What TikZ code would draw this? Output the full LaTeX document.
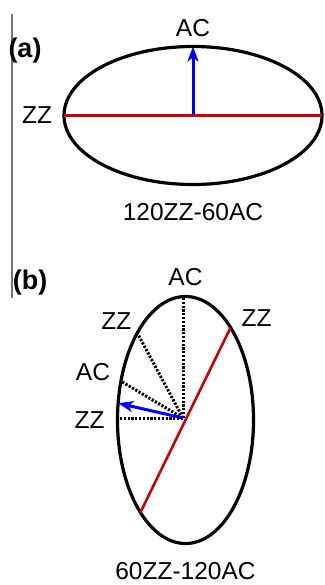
\documentclass[tikz,border=0pt]{standalone}
\usepackage{fontspec}
\setmainfont{Liberation Sans}
\usetikzlibrary{arrows.meta,positioning,shapes.geometric}

\definecolor{zzred}{RGB}{200,0,10}

\begin{document}
\begin{tikzpicture}[
				x=1bp, y=-1bp,
				every node/.style={font=\fontsize{24.5bp}{29bp}\selectfont, inner sep=0pt, outer sep=0pt},
				oval/.style={
					draw=black,
					ellipse,
					line width=3.2bp
				},
				axis/.style={
					draw=zzred,
					line width=2.6bp
				},
				vec/.style={
					-{Stealth[length=15bp,width=11bp,inset=4bp]},
					draw=blue,
					line width=3bp
				},
				dotline/.style={
					line width=3bp,
					dash pattern=on 2.2bp off 1.6bp
				},
				tag/.style={font=\bfseries\fontsize{27bp}{32bp}\selectfont}
				]
				\useasboundingbox (0,0) rectangle (324,585);
				\draw[black!55, line width=1.2bp] (12,14) -- (12,298);
				
				% (a)
				\node[tag] (tagA) at (25,51) {(a)};
				\node[oval, minimum width=258bp, minimum height=138bp] (ellA) at (193,115.5) {};
				\node[above=10bp of ellA.north] (acA) {AC};
				\node[left=12bp of ellA.west] (zzA) {ZZ};
				\node[below=19bp of ellA.south] (capA) {120ZZ-60AC};
				
				\draw[axis] (ellA.west) -- (ellA.east);
				\draw[vec] (ellA.center) -- (ellA.north);
				
				% (b)
				\node[tag] (tagB) at (30,283) {(b)};
				\node[oval, minimum width=136bp, minimum height=247bp] (ellB) at (185.5,420) {};
				\coordinate (ctrB) at (183,418);
				\node[above=11bp of ellB.north] (acB) {AC};
				\node[above left=3bp and 6bp of ellB.119] (zzB) {ZZ};
				\node[above right=1bp and 11bp of ellB.64] (zzC) {ZZ};
				\node[above left=0bp and 11bp of ellB.149] (acC) {AC};
				\node[left=13bp of ellB.west] (zzD) {ZZ};
				\node[below=19bp of ellB.south] (capB) {60ZZ-120AC};
				
				\draw[dotline] (ctrB) -- (ctrB |- ellB.north);
				\draw[dotline] (ctrB) -- (ellB.119);
				\draw[dotline] (ctrB) -- (ellB.149);
				\draw[dotline] (ctrB) -- (ellB.west |- ctrB);
				\draw[axis] (ellB.244) -- (ellB.64);
				\draw[vec] (ctrB) -- (ellB.166);
			\end{tikzpicture}
\end{document}
